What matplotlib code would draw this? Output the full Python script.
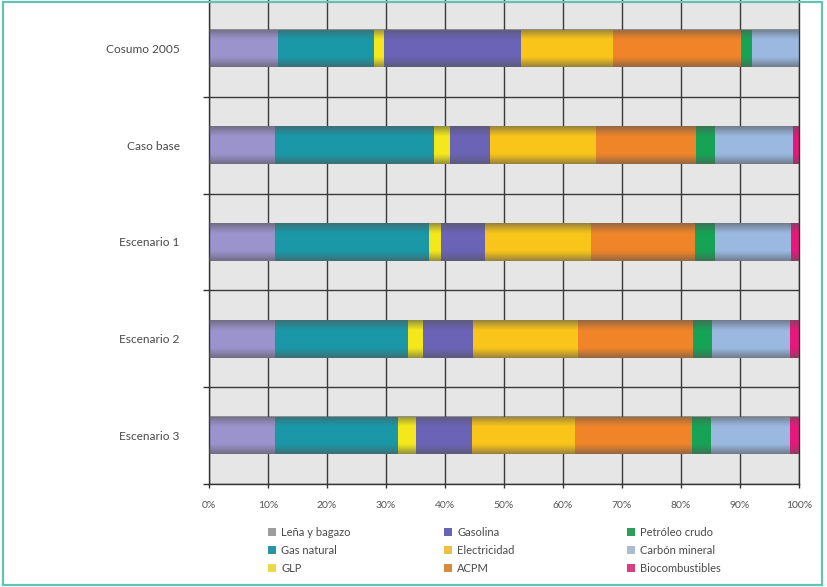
#! /bin/env python3

import matplotlib
matplotlib.use("Agg")
import matplotlib.pyplot as plt
from matplotlib.patches import Patch, Rectangle
import numpy as np

# categories (top to bottom) and energy sources (stack order)
categories = ["Cosumo 2005", "Caso base", "Escenario 1", "Escenario 2", "Escenario 3"]
sources = ["Leña y bagazo", "Gas natural", "GLP", "Gasolina", "Electricidad",
           "ACPM", "Petróleo crudo", "Carbón mineral", "Biocombustibles"]

# shares in %
lena = [11.7, 11.2, 11.2, 11.2, 11.2]
gas_natural = [16.3, 27.0, 26.1, 22.6, 20.8]
glp = [1.7, 2.6, 2.1, 2.5, 3.1]
gasolina = [23.1, 6.8, 7.4, 8.5, 9.5]
electricidad = [15.6, 18.0, 17.9, 17.7, 17.4]
acpm = [21.7, 17.0, 17.7, 19.5, 19.8]
petroleo = [1.9, 3.2, 3.4, 3.3, 3.3]
carbon = [8.0, 13.1, 12.9, 13.2, 13.4]
bio = [0.0, 1.1, 1.3, 1.5, 1.5]

x_ticks = [0, 10, 20, 30, 40, 50, 60, 70, 80, 90, 100]

bar_colors = ["#9b93cc", "#1a98a8", "#f4e81c", "#6b63b6", "#f9c51a",
              "#ef8429", "#17a356", "#9ab8e0", "#e8177c"]
legend_colors = ["#9d9d9d", "#2a95a6", "#ecd94a", "#6b63b6", "#f0c040",
                 "#d98a3c", "#2f9d5a", "#a9bcd6", "#d8407e"]


def main():
    series = [lena, gas_natural, glp, gasolina, electricidad,
              acpm, petroleo, carbon, bio]
    y = np.arange(len(categories))
    bar_h = 0.39

    plt.rcParams["font.family"] = ["Lato", "DejaVu Sans"]
    fig = plt.figure(figsize=(8.27, 5.87), dpi=100)
    ax = fig.add_axes([209 / 827, 1 - 484 / 587, 590 / 827, 484 / 587])
    ax.set_facecolor("#e6e6e6")

    left = np.zeros(len(categories))
    containers = []
    for vals, col in zip(series, bar_colors):
        c = ax.barh(y, vals, left=left, height=bar_h, color=col,
                    edgecolor="none", zorder=2)
        containers.append(c)
        left = left + np.array(vals)

    # grey shading at top and bottom of each bar
    t = np.linspace(-1, 1, 60)
    alpha = 0.6 * np.clip((np.abs(t) - 0.45) / 0.55, 0, 1) ** 1.2
    overlay = np.zeros((60, 2, 4))
    overlay[:, :, :3] = 0.33
    overlay[:, :, 3] = alpha[:, None]
    for i, p in enumerate(containers[0].patches):
        ax.imshow(overlay, extent=[0, left[i], p.get_y(), p.get_y() + p.get_height()],
                  aspect="auto", interpolation="bilinear", zorder=3)

    ax.set_xlim(0, 100)
    ax.set_ylim(len(categories) - 0.5, -0.5)

    ax.set_xticks(x_ticks)
    ax.set_xticklabels([f"{v}%" for v in x_ticks])
    ax.set_yticks(y)
    ax.set_yticklabels(categories)
    ax.set_yticks(y + 0.5, minor=True)
    ax.get_yticklabels()[1].set_fontsize(7.6)

    ax.tick_params(axis="x", which="major", length=3, width=1, color="#333333",
                   labelsize=7.5, labelcolor="#555555", pad=9)
    ax.tick_params(axis="y", which="major", length=0, labelsize=8.6,
                   labelcolor="#4a4a4a", pad=21)
    ax.tick_params(axis="y", which="minor", length=4, width=1, color="#333333")

    ax.set_axisbelow(True)
    ax.grid(axis="x", which="major", color="#3a3a3a", lw=1.0, zorder=1)
    ax.grid(axis="y", which="minor", color="#3a3a3a", lw=1.0, zorder=1)
    for s in ["left", "bottom", "right"]:
        ax.spines[s].set_color("#333333")
        ax.spines[s].set_linewidth(1.0)
    ax.spines["top"].set_visible(False)

    # legend in three columns
    col_x = [268, 444, 627]
    for k in range(3):
        idx = range(3 * k, 3 * k + 3)
        handles = [Patch(facecolor=legend_colors[i], edgecolor="none") for i in idx]
        labels = [sources[i] for i in idx]
        fig.legend(handles, labels, loc="upper left",
                   bbox_to_anchor=(col_x[k] / 827, 1 - 527 / 587),
                   frameon=False, fontsize=8, handlelength=0.7,
                   handleheight=0.7, handletextpad=0.5, labelspacing=0.62,
                   borderpad=0, borderaxespad=0, labelcolor="#4a4a4a")

    # teal frame around the whole figure
    fig.patches.append(Rectangle((3 / 827, 2 / 587), 819 / 827, 583 / 587,
                                 transform=fig.transFigure, fill=False,
                                 edgecolor="#62c3b4", lw=1.6))

    fig.savefig("out.png", dpi=100)


if __name__ == "__main__":
    main()
